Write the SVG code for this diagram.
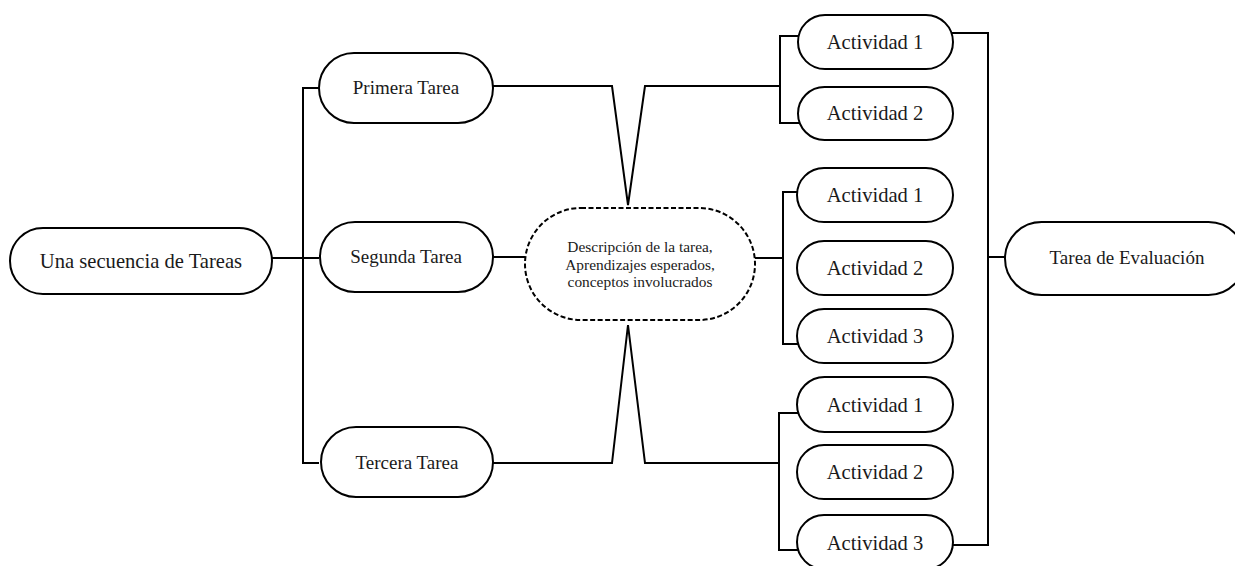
<svg xmlns="http://www.w3.org/2000/svg" width="1235" height="566" viewBox="0 0 1235 566">
<style>
.n{fill:#fff;stroke:#000;stroke-width:2}
.d{fill:#fff;stroke:#000;stroke-width:2;stroke-dasharray:5 2.5}
.c{fill:none;stroke:#000;stroke-width:2;stroke-linejoin:miter}
text{font-family:"Liberation Serif","Times New Roman",serif;fill:#1a1a1a;text-anchor:middle}
.t20{font-size:20.6px}
.t19{font-size:19px}
.t15{font-size:15.4px}
</style>
<rect width="1235" height="566" fill="#fff"/>
<g id="connectors">
<path class="c" d="M272,258 H303 M319,88 H303 V463 H319 M303,258 H319"/>
<path class="c" d="M493,86 H612 L628,205 L645,86 H780"/>
<path class="c" d="M800,36 H780 V123 H800"/>
<path class="c" d="M493,257 H525"/>
<path class="c" d="M755,258 H783"/>
<path class="c" d="M800,192 H783 V344 H800"/>
<path class="c" d="M493,463 H612 L628,325 L645,463 H779"/>
<path class="c" d="M800,413 H779 V550 H800"/>
<path class="c" d="M951,33 H988 V545 H953"/>
<path class="c" d="M988,257 H1005"/>
</g>
<g id="root"><rect class="n" x="10" y="228" width="262" height="66" rx="33"/><text class="t20" x="141" y="268">Una secuencia de Tareas</text></g>
<g id="task1"><rect class="n" x="319" y="53" width="174" height="70" rx="35"/><text class="t19" x="406" y="94">Primera Tarea</text></g>
<g id="task2"><rect class="n" x="320" y="222" width="173" height="70" rx="35"/><text class="t19" x="406" y="263">Segunda Tarea</text></g>
<g id="task3"><rect class="n" x="321" y="427" width="172" height="70" rx="35"/><text class="t19" x="407" y="469">Tercera Tarea</text></g>
<g id="center"><rect class="d" x="525" y="208" width="230" height="112" rx="56"/>
<text class="t15" x="640" y="252">Descripción de la tarea,</text>
<text class="t15" x="640" y="270">Aprendizajes esperados,</text>
<text class="t15" x="640" y="287">conceptos involucrados</text></g>
<g id="a1-1"><rect class="n" x="798" y="15" width="155" height="54" rx="27"/><text class="t20" x="875" y="49">Actividad 1</text></g>
<g id="a1-2"><rect class="n" x="798" y="87" width="155" height="53" rx="26.5"/><text class="t20" x="875" y="120">Actividad 2</text></g>
<g id="a2-1"><rect class="n" x="797" y="168" width="156" height="54" rx="27"/><text class="t20" x="875" y="202">Actividad 1</text></g>
<g id="a2-2"><rect class="n" x="797" y="241" width="156" height="54" rx="27"/><text class="t20" x="875" y="275">Actividad 2</text></g>
<g id="a2-3"><rect class="n" x="797" y="309" width="156" height="54" rx="27"/><text class="t20" x="875" y="343">Actividad 3</text></g>
<g id="a3-1"><rect class="n" x="797" y="377" width="156" height="55" rx="27.5"/><text class="t20" x="875" y="412">Actividad 1</text></g>
<g id="a3-2"><rect class="n" x="797" y="445" width="156" height="54" rx="27"/><text class="t20" x="875" y="479">Actividad 2</text></g>
<g id="a3-3"><rect class="n" x="797" y="515" width="156" height="54" rx="27"/><text class="t20" x="875" y="550">Actividad 3</text></g>
<g id="eval"><rect class="n" x="1005" y="222" width="240" height="73" rx="36.5"/><text class="t19" x="1127" y="264">Tarea de Evaluación</text></g>
</svg>
